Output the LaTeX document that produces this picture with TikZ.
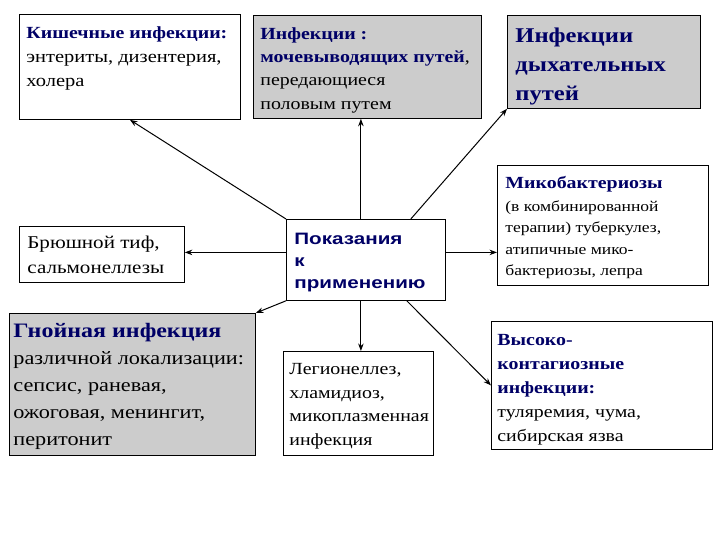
\documentclass[tikz,border=0pt]{standalone}
\usepackage{fontspec}
\setmainfont[FakeStretch=1.17]{Liberation Serif}
\setsansfont[FakeStretch=1.25]{Liberation Sans}
\usetikzlibrary{arrows.meta, positioning, calc}

\definecolor{titlenavy}{RGB}{0, 0, 102}
\definecolor{boxgray}{RGB}{204, 204, 204}

% text block of fixed size inside a box
\newcommand{\boxtext}[3]{\parbox[c][#2pt][t]{#1pt}{#3}}

\tikzset{
  infobox/.style={draw, line width=0.8pt, anchor=north west, inner xsep=8pt},
  graybox/.style={infobox, fill=boxgray},
  link/.style={-{Stealth[length=7.5pt, width=5.5pt]}, line width=1pt},
}

\begin{document}
\begin{tikzpicture}[x=1pt, y=-1pt]
  \useasboundingbox (0,0) rectangle (720,540);

  % upper row
  \node[infobox, inner xsep=7pt, inner ysep=12pt] (kish) at (19,14)
    {\boxtext{207}{81}{\fontsize{17.5}{24}\selectfont
      {\fontsize{17}{24}\selectfont\bfseries\color{titlenavy}Кишечные~инфекции:}\\
      энтериты, дизентерия,\\ холера}};
  \node[graybox, inner xsep=7pt, inner ysep=12pt] (mochev) at (253,15)
    {\boxtext{214}{79}{\fontsize{17}{23.3}\selectfont
      {\bfseries\color{titlenavy}Инфекции :}\\
      {\bfseries\color{titlenavy}мочевыводящих путей}, \\
      передающиеся\\ половым путем}};
  \node[graybox, inner ysep=13pt] (dykh) at (507,15)
    {\boxtext{177}{67}{\fontsize{21}{29}\selectfont\bfseries\color{titlenavy}
      Инфекции\\ дыхательных\\ путей}};

  % middle row
  \node[infobox, inner ysep=9.5pt] (bryush) at (19,226)
    {\boxtext{149}{37}{\fontsize{18}{25}\selectfont
      Брюшной тиф,\\ сальмонеллезы}};
  \node[infobox, inner ysep=14pt] (center) at (286,219)
    {\boxtext{143}{53}{\sffamily\bfseries\fontsize{16.5}{22}\selectfont\color{titlenavy}
      Показания\\ к\\ применению}};
  \node[infobox, inner ysep=11pt] (mikob) at (497,165)
    {\boxtext{195}{98}{{\fontsize{17}{24}\selectfont\bfseries\color{titlenavy}Микобактериозы}\\[1pt]
      \fontsize{15}{21.5}\selectfont
      (в комбинированной\\ терапии) туберкулез,\\ атипичные мико-\\ бактериозы, лепра}};

  % lower row
  \node[graybox, inner xsep=4pt, inner ysep=10pt] (gnoy) at (9,313)
    {\boxtext{238}{122}{{\fontsize{20.5}{27}\selectfont\bfseries\color{titlenavy}Гнойная инфекция}\\
      \fontsize{19}{27}\selectfont
      различной локализации:\\ сепсис, раневая,\\ ожоговая, менингит,\\ перитонит}};
  \node[infobox, inner xsep=6pt, inner ysep=12pt] (legion) at (283,351)
    {\boxtext{138}{80}{\fontsize{17}{23.5}\selectfont
      Легионеллез,\\ хламидиоз,\\ микоплазменная\\ инфекция}};
  \node[infobox, inner xsep=6pt, inner ysep=13pt] (vysoko) at (491,321)
    {\boxtext{209}{102}{\fontsize{17}{24}\selectfont
      {\bfseries\color{titlenavy}Высоко-\\ контагиозные\\ инфекции:}\\
      туляремия, чума,\\ сибирская язва}};

  % connectors from the centre
  \draw[link] (center.north west) -- (kish.south);
  \draw[link] ([xshift=-5pt]center.north) -- ([xshift=-5pt]center.north |- mochev.south);
  \draw[link] ([xshift=-35pt]center.north east) -- (dykh.south west);
  \draw[link] ([yshift=7.5pt]center.west) -- ([yshift=7.5pt]center.west -| bryush.east);
  \draw[link] ([yshift=7.5pt]center.east) -- ([yshift=7.5pt]center.east -| mikob.west);
  \draw[link] (center.south west) -- (gnoy.north east);
  \draw[link] ([xshift=-5pt]center.south) -- ([xshift=-5pt]center.south |- legion.north);
  \draw[link] ([xshift=-39pt]center.south east) -- (vysoko.west);
\end{tikzpicture}
\end{document}
